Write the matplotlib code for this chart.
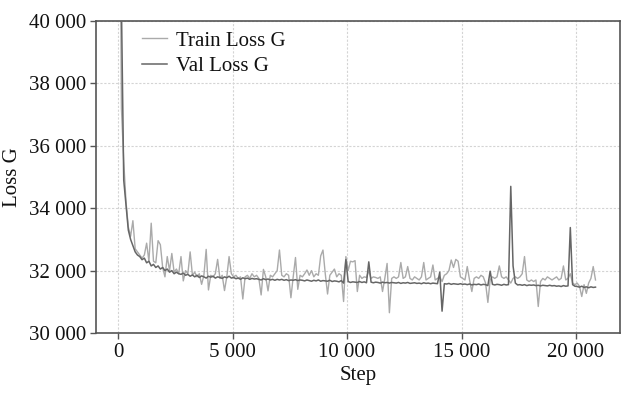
import matplotlib
matplotlib.use("Agg")
import matplotlib.pyplot as plt
from matplotlib.ticker import FuncFormatter

plt.rcParams['font.family'] = ['Liberation Serif', 'DejaVu Serif']

steps = [50 + 100 * i for i in range(209)]

train_loss = [
    48000, 37200, 35500, 34200, 33400, 33100, 33600, 32700, 32600, 32500,
    32400, 32500, 32880, 32300, 33520, 32300, 32250, 32960, 32830, 32100,
    31800, 32450, 32000, 32550, 31950, 32050, 31900, 32450, 31670, 32000,
    31900, 32600, 31850, 31950, 31800, 31900, 31560, 31850, 32680, 31380,
    31850, 31800, 31900, 32360, 31750, 31850, 31360, 31800, 32450, 31900,
    31800, 31850, 31750, 31800, 31090, 31800, 31850, 31750, 31900, 31800,
    31850, 31750, 31220, 32040, 31800, 31350, 31850, 31800, 31900, 32000,
    32660, 31850, 31800, 31900, 31850, 31130, 31800, 32420, 31400, 31850,
    31800, 31900, 32020, 31850, 32000, 31800, 31900, 31850, 32470, 32660,
    31900, 31250, 31850, 31950, 32050, 31800, 31900, 31850, 31010, 32450,
    32000, 32300, 32280, 32320, 31330, 31850, 31750, 31800, 31780, 32000,
    31750, 31800, 31780, 31750, 31800, 31330, 31750, 32230, 30650, 31750,
    31800, 31750, 31800, 32260, 31750, 31800, 32130, 31750, 31700, 31800,
    31750, 31700, 31800, 32260, 31700, 31750, 31800, 32180, 31700, 31750,
    31800, 31650, 31850, 31900, 32000, 32340, 32100, 32360, 32300, 31800,
    31750, 31700, 32130, 31700, 31330, 31750, 31800, 31750, 31850, 31800,
    31600, 30980, 31700, 31800, 31750, 31800, 32150, 31800, 31750, 31800,
    31700, 31600, 31750, 31800, 31750, 31800, 31900, 32450, 31700, 31650,
    31700, 31650, 31700, 30850, 31650, 31750, 31700, 31800, 31750, 31700,
    31750, 31800, 31700, 31750, 32150, 31700, 31750, 31900, 31600, 31550,
    31600, 31500, 31170, 31550, 31270, 31600, 31750, 32130, 31700,
]

val_loss = [
    48000, 40500, 34900, 34100, 33300, 33000, 32800, 32600, 32500, 32450,
    32350, 32400, 32250, 32300, 32150, 32200, 32100, 32150, 32050, 32100,
    32000, 32050, 31950, 32000, 31900, 31950, 31900, 31880, 31920, 31850,
    31880, 31820, 31860, 31800, 31850, 31780, 31830, 31800, 31760, 31820,
    31790, 31820, 31760, 31800, 31780, 31750, 31800, 31770, 31820, 31760,
    31780, 31740, 31760, 31720, 31770, 31740, 31760, 31720, 31750, 31730,
    31740, 31720, 31700, 31740, 31710, 31730, 31700, 31720, 31690, 31720,
    31700, 31720, 31690, 31710, 31680, 31700, 31690, 31710, 31680, 31700,
    31690, 31670, 31700, 31680, 31660, 31690, 31670, 31700, 31660, 31680,
    31670, 31660, 31690, 31650, 31670, 31660, 31640, 31680, 31600, 32350,
    31650, 31620, 31640, 31630, 31620, 31650, 31620, 31640, 31610, 32280,
    31630, 31610, 31630, 31620, 31600, 31630, 31610, 31620, 31600, 31620,
    31610, 31600, 31620, 31590, 31610, 31600, 31620, 31590, 31600, 31610,
    31590, 31600, 31580, 31610, 31590, 31600, 31580, 31600, 31590, 31580,
    31950, 30700, 31580, 31570, 31590, 31560, 31580, 31570, 31560, 31580,
    31560, 31570, 31550, 31570, 31540, 31560, 31550, 31570, 31540, 31560,
    31550, 31520, 31980, 31560, 31540, 31560, 31550, 31530, 31560, 31540,
    31550, 34700, 32150, 31600, 31540, 31550, 31530, 31550, 31520, 31540,
    31530, 31540, 31520, 31530, 31510, 31530, 31520, 31510, 31530, 31510,
    31520, 31500, 31510, 31490, 31520, 31500, 31510, 33380, 31550, 31500,
    31490, 31470, 31500, 31460, 31480, 31450, 31480, 31460, 31470,
]

x_ticks = [0, 5000, 10000, 15000, 20000]
y_ticks = [30000, 32000, 34000, 36000, 38000, 40000]


def fmt(v, pos):
    return f"{int(round(v)):,}".replace(",", " ")


fig = plt.figure(figsize=(6.38, 3.98), dpi=100)
ax = fig.add_axes([0.1505, 0.1633, 0.8213, 0.7839])

ax.plot(steps, train_loss, color="#aaaaaa", lw=1.0, label="Train Loss G", zorder=2)
ax.plot(steps, val_loss, color="#666666", lw=1.1, label="Val Loss G", zorder=3)

ax.set_xlim(-960, 21920)
ax.set_ylim(30000, 40000)
ax.set_xticks(x_ticks)
ax.set_yticks(y_ticks)
ax.xaxis.set_major_formatter(FuncFormatter(fmt))
ax.yaxis.set_major_formatter(FuncFormatter(fmt))

ax.grid(True, color="#d4d4d4", lw=0.8, ls=(0, (2, 1.5)))
ax.set_axisbelow(True)

for sp in ax.spines.values():
    sp.set_color("#555555")
    sp.set_linewidth(1.2)

ax.tick_params(axis="both", direction="out", length=4, width=1, color="#555555",
               labelsize=15, labelcolor="#111111", pad=3)

ax.set_xlabel("Step", fontsize=15, color="#111111", labelpad=3)
ax.set_ylabel("Loss G", fontsize=15, color="#111111", labelpad=5)

leg = ax.legend(loc="upper left", bbox_to_anchor=(0.06, 1.015), frameon=False,
                fontsize=15, handlelength=1.2, handletextpad=0.45,
                labelspacing=0.3, borderaxespad=0.3)
for t in leg.get_texts():
    t.set_color("#111111")

fig.savefig("out.png", dpi=100)
